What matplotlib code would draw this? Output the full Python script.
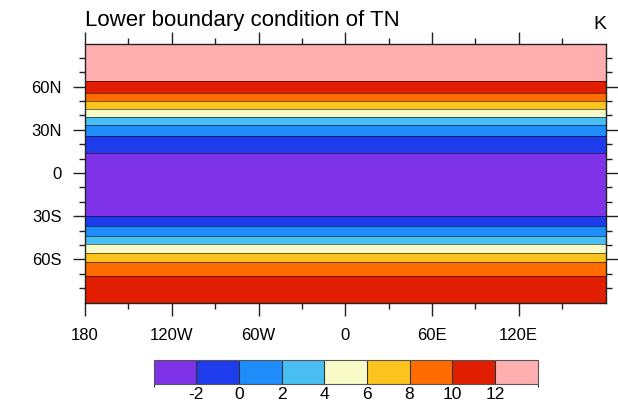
import numpy as np
import matplotlib
matplotlib.use("Agg")
import matplotlib.pyplot as plt
from matplotlib.colors import ListedColormap, BoundaryNorm
from matplotlib.ticker import FixedLocator

plt.rcParams['font.family'] = ['Liberation Sans', 'DejaVu Sans']

# ---- data (zonal profile of the field) ----
lat_profile = [-90, -71.8, -61.8, -55.4, -49.3, -43.8, -36.6, -29.7, -8.0,
               14.1, 25.7, 33.4, 38.7, 44.5, 50.2, 55.8, 64.1, 90]
val_profile = [11.0, 10, 8, 6, 4, 2, 0, -2, -3.0,
               -2, 0, 2, 4, 6, 8, 10, 12, 13.0]
lon_edges = [-180, 180]

levels = [-2, 0, 2, 4, 6, 8, 10, 12]
colors = ['#7F33E9', '#1E3CEB', '#1E8CFA', '#48BEF3', '#F8FAC8',
          '#FAC31E', '#FF6C00', '#E11E00', '#FFAFAF']

xtick_vals = [-180, -120, -60, 0, 60, 120]
xtick_labels = ['180', '120W', '60W', '0', '60E', '120E']
ytick_vals = [-60, -30, 0, 30, 60]
ytick_labels = ['60S', '30S', '0', '30N', '60N']

title_left = 'Lower boundary condition of TN'
title_right = 'K'

# ---- figure ----
W, H = 618, 409
fig = plt.figure(figsize=(W / 100, H / 100), dpi=100)

def ax_rect(x0, y0, x1, y1):
    return [x0 / W, 1 - y1 / H, (x1 - x0) / W, (y1 - y0) / H]

ax = fig.add_axes(ax_rect(85, 43.5, 605.5, 302.5))

lat = np.array(lat_profile)
lon = np.array(lon_edges, dtype=float)
field = np.tile(np.array(val_profile)[:, None], (1, len(lon)))

cmap = ListedColormap(colors)
bounds = [-4] + levels + [14]
norm = BoundaryNorm(bounds, cmap.N)

ax.contourf(lon, lat, field, levels=bounds, cmap=cmap, norm=norm)
ax.contour(lon, lat, field, levels=levels, colors='black', linewidths=0.7,
           alpha=0.55, linestyles='solid')

ax.set_xlim(-180, 180)
ax.set_ylim(-90, 90)

ax.xaxis.set_major_locator(FixedLocator(xtick_vals))
ax.set_xticklabels(xtick_labels)
ax.xaxis.set_minor_locator(FixedLocator([-150, -90, -30, 30, 90, 150]))
ax.yaxis.set_major_locator(FixedLocator(ytick_vals))
ax.set_yticklabels(ytick_labels)
ax.yaxis.set_minor_locator(FixedLocator([v for v in range(-80, 90, 10) if v % 30 != 0]))

ax.tick_params(which='both', direction='out', top=True, right=True, color='#222222', width=1.0)
ax.tick_params(which='major', length=9, labelsize=12, pad=7.5)
ax.tick_params(axis='x', which='major', pad=9)
ax.tick_params(which='minor', length=4.3)
for s in ax.spines.values():
    s.set_linewidth(1.0)
    s.set_color('#222222')

fig.text(85 / W, 1 - 26 / H, title_left, fontsize=16, ha='left', va='baseline')
fig.text(606 / W, 1 - 29 / H, title_right, fontsize=14, ha='right', va='baseline')

# ---- colorbar ----
cax = fig.add_axes(ax_rect(153.5, 359.5, 537.5, 383.5))
sm = matplotlib.cm.ScalarMappable(cmap=cmap, norm=norm)
cb = fig.colorbar(sm, cax=cax, orientation='horizontal', drawedges=True,
                  boundaries=bounds, ticks=levels, spacing='uniform')
cb.outline.set_edgecolor('#555555')
cb.outline.set_linewidth(0.8)
cb.dividers.set_color('#333333')
cb.dividers.set_linewidth(0.8)
cb.ax.tick_params(length=0, labelsize=12.5, pad=2.5)
cb.ax.set_xticklabels([str(v) for v in levels])

fig.savefig('out.png', dpi=100)
